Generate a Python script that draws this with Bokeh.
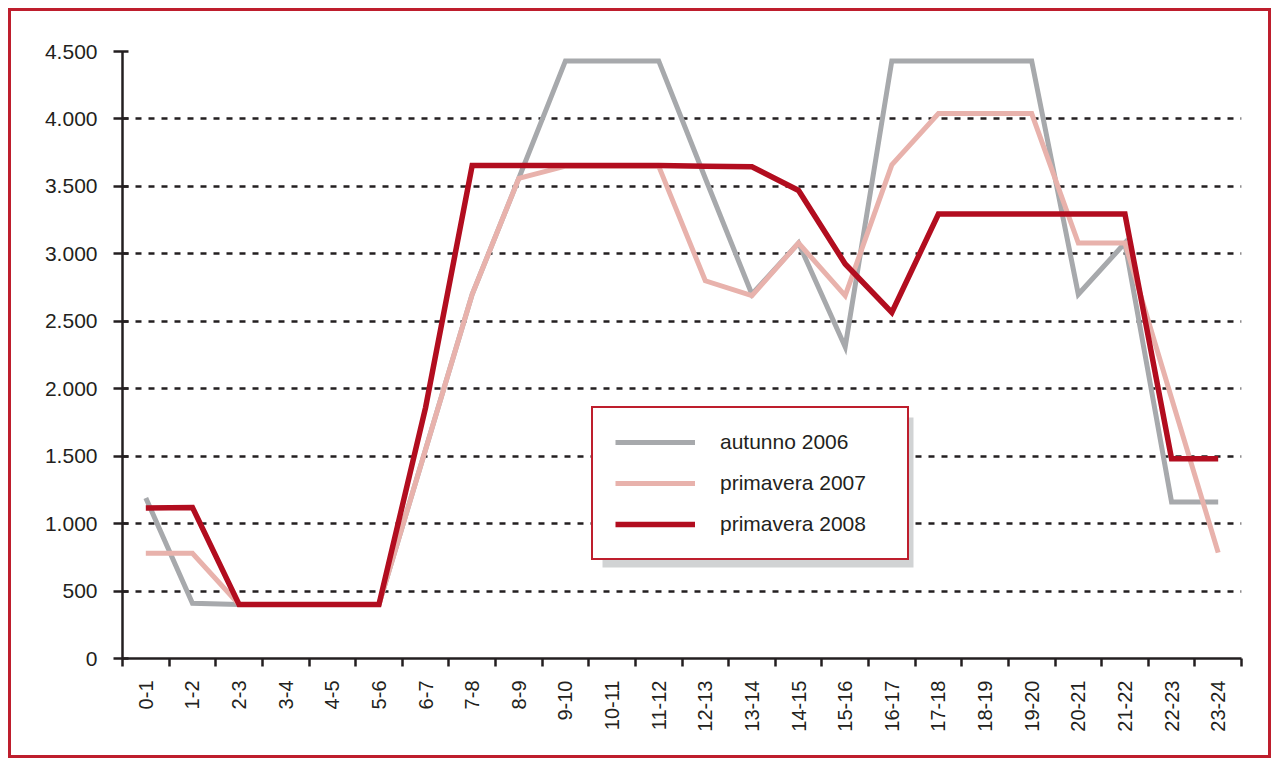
import math
from bokeh.plotting import figure
from bokeh.models import FixedTicker, Range1d, Legend, LegendItem, BoxAnnotation
from bokeh.embed import file_html
from bokeh.resources import INLINE

# ---- data ----
hours = ["0-1", "1-2", "2-3", "3-4", "4-5", "5-6", "6-7", "7-8", "8-9", "9-10",
         "10-11", "11-12", "12-13", "13-14", "14-15", "15-16", "16-17", "17-18",
         "18-19", "19-20", "20-21", "21-22", "22-23", "23-24"]
autunno_2006 = [1190, 410, 400, 400, 400, 400, 1550, 2700, 3560, 4430, 4430, 4430,
                3560, 2700, 3080, 2310, 4430, 4430, 4430, 4430, 2700, 3080, 1160, 1160]
primavera_2007 = [780, 780, 400, 400, 400, 400, 1550, 2700, 3560, 3650, 3650, 3650,
                  2800, 2690, 3080, 2690, 3660, 4040, 4040, 4040, 3080, 3080, 1930, 785]
primavera_2008 = [1115, 1120, 400, 400, 400, 400, 1860, 3655, 3655, 3655, 3655, 3655,
                  3650, 3645, 3470, 2925, 2565, 3295, 3295, 3295, 3295, 3295, 1480, 1480]
series_names = ["autunno 2006", "primavera 2007", "primavera 2008"]
y_ticks = [0, 500, 1000, 1500, 2000, 2500, 3000, 3500, 4000, 4500]
y_tick_labels = ["0", "500", "1.000", "1.500", "2.000", "2.500", "3.000", "3.500",
                 "4.000", "4.500"]

x = list(range(1, len(hours) + 1))

TEXT = "#231f20"
FONT = "Liberation Sans"
RED = "#b20d1f"
FRAME_RED = "#be1e2d"
colors = ["#a7a9ac", "#e8b2ac", RED]
widths = [5, 5, 5.5]

p = figure(width=1263, height=750, output_backend="svg", toolbar_location=None,
           x_range=Range1d(0.5, len(hours) + 0.5), y_range=Range1d(0, 4500),
           min_border_left=111, min_border_right=33, min_border_top=40,
           min_border_bottom=103)
p.styles = {"border": f"3px solid {FRAME_RED}", "margin-left": "8px", "margin-top": "8px"}
p.outline_line_color = None
p.background_fill_color = "white"
p.border_fill_color = "white"

# axes
xa = p.xaxis[0]
xa.ticker = FixedTicker(ticks=x, minor_ticks=[i + 0.5 for i in range(len(hours) + 1)])
xa.major_label_overrides = {xi: h for xi, h in zip(x, hours)}
xa.major_label_orientation = math.pi / 2
xa.major_tick_line_color = None
xa.major_tick_out = 8
xa.major_tick_in = 0
xa.minor_tick_line_color = TEXT
xa.minor_tick_line_width = 2.5
xa.minor_tick_out = 8
xa.minor_tick_in = 0
xa.axis_line_color = TEXT
xa.axis_line_width = 2.5
xa.major_label_text_font = FONT
xa.major_label_text_font_size = "20px"
xa.major_label_text_color = TEXT
xa.major_label_standoff = 14

ya = p.yaxis[0]
ya.ticker = FixedTicker(ticks=y_ticks, minor_ticks=[])
ya.major_label_overrides = {t: l for t, l in zip(y_ticks, y_tick_labels)}
ya.major_tick_line_color = TEXT
ya.major_tick_line_width = 2.5
ya.major_tick_out = 9
ya.major_tick_in = 6
ya.minor_tick_line_color = None
ya.axis_line_color = TEXT
ya.axis_line_width = 2.5
ya.major_label_text_font = FONT
ya.major_label_text_font_size = "21px"
ya.major_label_text_color = TEXT
ya.major_label_standoff = 16

p.xgrid.visible = False
p.ygrid.grid_line_color = TEXT
p.ygrid.grid_line_width = 2.5
p.ygrid.grid_line_dash = "6 7"

# lines
renderers = []
for ys, c, w in zip([autunno_2006, primavera_2007, primavera_2008], colors, widths):
    r = p.line(x, ys, line_color=c, line_width=w, line_join="miter")
    renderers.append(r)

# legend shadow
shadow = BoxAnnotation(left=10.795, right=17.465, bottom=675, top=1787,
                       fill_color="#d1d3d4", fill_alpha=1, line_color=None,
                       level="annotation")
p.add_layout(shadow)

legend = Legend(items=[LegendItem(label=n, renderers=[r]) for n, r in zip(series_names, renderers)],
                location=(469, 98), orientation="vertical",
                padding=22, spacing=17, margin=0,
                glyph_width=80, glyph_height=20, label_height=20, label_width=165,
                label_standoff=25,
                label_text_font=FONT, label_text_font_size="21px", label_text_color=TEXT,
                border_line_color=FRAME_RED, border_line_width=2.5, border_line_alpha=1,
                background_fill_color="white", background_fill_alpha=1)
p.add_layout(legend, "center")

open("out.html", "w").write(file_html(p, INLINE))
